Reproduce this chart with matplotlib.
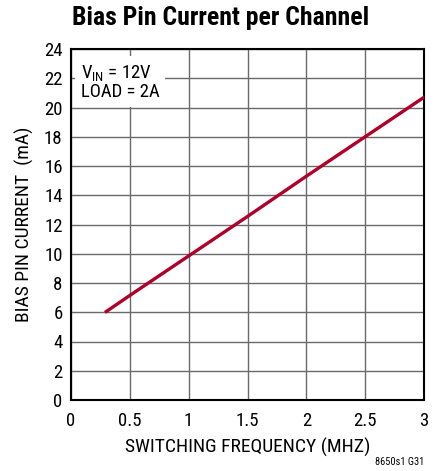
import numpy as np
import matplotlib
matplotlib.use('Agg')
from matplotlib import pyplot as plt

plt.rcParams['font.family'] = ['Roboto Condensed', 'DejaVu Sans']
plt.rcParams['mathtext.fontset'] = 'custom'
plt.rcParams['mathtext.rm'] = 'Roboto Condensed'

# switching frequency (MHz) vs bias pin current (mA)
freq = [0.3, 0.5, 1.0, 1.5, 2.0, 2.5, 3.0]
bias_current = [6.05, 7.15, 9.85, 12.55, 15.3, 18.0, 20.7]

x_ticks = [0, 0.5, 1, 1.5, 2, 2.5, 3]
x_tick_labels = ['0', '0.5', '1', '1.5', '2', '2.5', '3']
y_ticks = list(range(0, 25, 2))


def main():
    fig = plt.figure(figsize=(4.42, 4.71), dpi=100)
    ax = fig.add_axes([71 / 442, 1 - 400 / 471, 353 / 442, 351 / 471])

    ax.plot(freq, bias_current, color='#b0002a', lw=2.4, zorder=3)

    ax.set_xlim(0, 3)
    ax.set_ylim(0, 24)
    ax.set_xticks(x_ticks)
    ax.set_xticklabels(x_tick_labels)
    ax.set_yticks(y_ticks)
    ax.tick_params(length=0, labelsize=13.5)
    ax.tick_params(axis='x', pad=9)
    ax.tick_params(axis='y', pad=6)
    ax.grid(True, color='#6a6a6a', lw=1.0)
    ax.set_axisbelow(True)
    for sp in ax.spines.values():
        sp.set_linewidth(1.5)
        sp.set_color('black')

    ax.set_xlabel('SWITCHING FREQUENCY (MHZ)', fontsize=14, labelpad=5)
    ax.set_ylabel('BIAS PIN CURRENT  (mA)', fontsize=14, labelpad=7)

    ax.text(0.085, 23.05, '$\\mathregular{V_{IN}}$ = 12V\nLOAD = 2A', fontsize=13.5,
            va='top', ha='left', linespacing=1.0, zorder=4,
            bbox=dict(facecolor='white', edgecolor='none', pad=4))

    fig.text(0.5, 1 - 18 / 471, 'Bias Pin Current per Channel', ha='center', va='center',
             fontsize=18.5, fontweight='bold')
    fig.text(424 / 442, 1 - 462 / 471, '8650s1 G31', ha='right', va='center', fontsize=7.5)

    fig.savefig('out.png', dpi=100)


main()
